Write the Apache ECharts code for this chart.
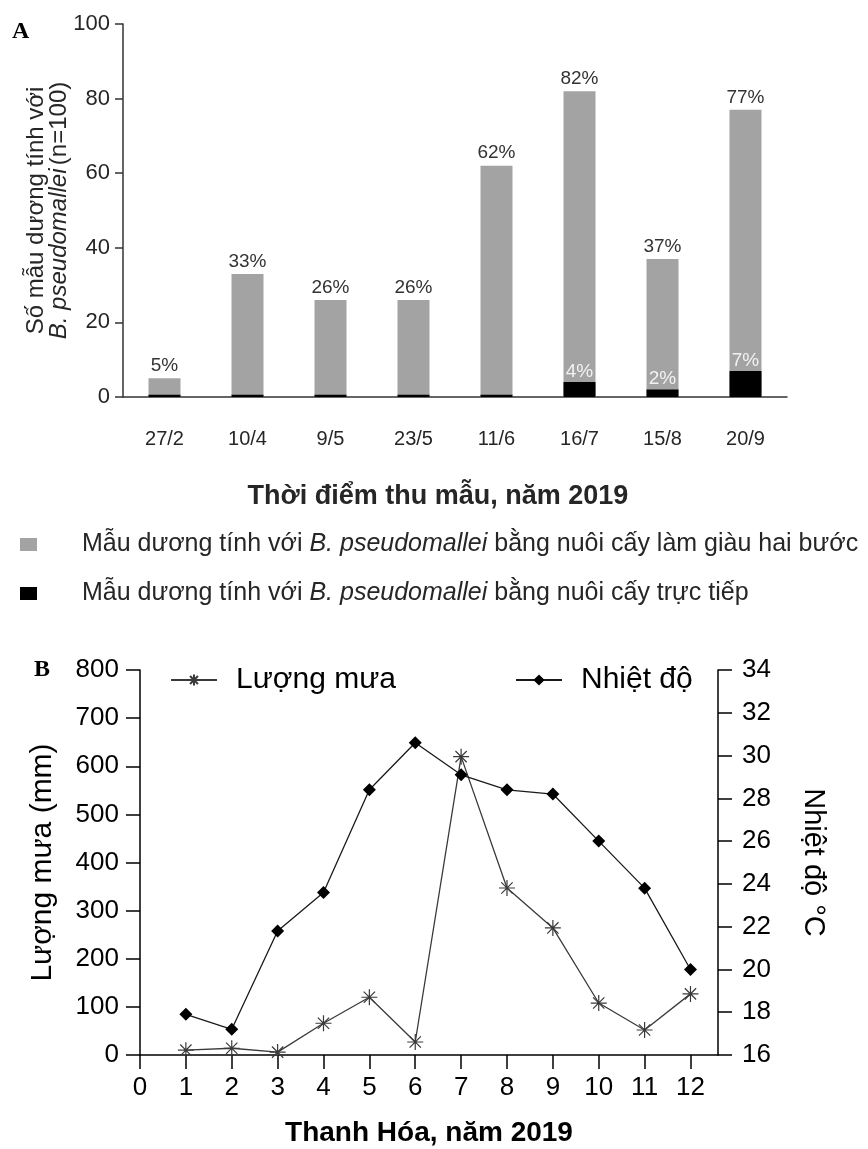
<!DOCTYPE html>
<html>
<head>
<meta charset="utf-8">
<script src="https://cdn.jsdelivr.net/npm/echarts@6/dist/echarts.min.js"></script>
<style>
  html, body { margin: 0; padding: 0; background: #fff; }
  #chart { width: 868px; height: 1149px; }
</style>
</head>
<body>
<div id="chart"></div>
<script>
// Panel A: positive samples per sampling date (n = 100)
const sampleDates = ['27/2', '10/4', '9/5', '23/5', '11/6', '16/7', '15/8', '20/9'];
const twoStepPositive = [5, 33, 26, 26, 62, 82, 37, 77];
const directPositive = [0.6, 0.6, 0.6, 0.6, 0.6, 4, 2, 7];

// Panel B: monthly rainfall and temperature, Thanh Hóa 2019
const months = [1, 2, 3, 4, 5, 6, 7, 8, 9, 10, 11, 12];
const rainfall = [10, 14, 6, 66, 120, 27, 620, 347, 264, 108, 52, 127];
const temperature = [17.9, 17.2, 21.8, 23.6, 28.4, 30.6, 29.1, 28.4, 28.2, 26.0, 23.8, 20.0];

const TWO_STEP = 'Mẫu dương tính với B. pseudomallei bằng nuôi cấy làm giàu hai bước';
const DIRECT = 'Mẫu dương tính với B. pseudomallei bằng nuôi cấy trực tiếp';
const RAIN = 'Lượng mưa';
const TEMP = 'Nhiệt độ';

const SANS = "'Liberation Sans', Arial, sans-serif";
const GREY = '#a3a3a3';
const INK = '#262626';

const asterisk = 'path://M0,-10L0,10M-10,0L10,0M-7.07,-7.07L7.07,7.07M-7.07,7.07L7.07,-7.07';

const chart = echarts.init(document.getElementById('chart'), null, { renderer: 'canvas' });

const legendRich = {
  n: { fontSize: 25, color: INK },
  i: { fontSize: 25, color: INK, fontStyle: 'italic' }
};
function legendName(name) {
  const parts = name.split('B. pseudomallei');
  return '{n|' + parts[0] + '}{i|B. pseudomallei}{n|' + parts[1] + '}';
}

chart.setOption({
  animation: false,
  backgroundColor: '#fff',
  textStyle: { fontFamily: SANS },
  grid: [
    { left: 123, top: 24, width: 664, height: 373 },
    { left: 140, top: 670, width: 578, height: 385 }
  ],
  graphic: [
    { type: 'text', left: 12, top: 20, style: { text: 'A', font: "bold 24px 'Liberation Serif', 'Times New Roman', serif", fill: '#000' } },
    { type: 'text', left: 34, top: 658, style: { text: 'B', font: "bold 24px 'Liberation Serif', 'Times New Roman', serif", fill: '#000' } }
  ],
  legend: [
    {
      data: [TWO_STEP, DIRECT],
      orient: 'vertical',
      left: 15, top: 527,
      itemWidth: 17, itemHeight: 13, itemGap: 24,
      icon: 'rect',
      selectedMode: false,
      formatter: legendName,
      textStyle: { padding: [0, 0, 0, 40], rich: legendRich }
    },
    {
      data: [RAIN],
      left: 165, top: 660,
      itemWidth: 46, itemHeight: 14,
      selectedMode: false,
      textStyle: { fontSize: 30, color: '#000', padding: [0, 0, 0, 14] }
    },
    {
      data: [TEMP],
      left: 510, top: 660,
      itemWidth: 46, itemHeight: 14,
      selectedMode: false,
      textStyle: { fontSize: 30, color: '#000', padding: [0, 0, 0, 14] }
    }
  ],
  xAxis: [
    {
      type: 'category',
      gridIndex: 0,
      data: sampleDates,
      axisLine: { lineStyle: { color: '#333', width: 1.5 } },
      axisTick: { alignWithLabel: true, length: 10, lineStyle: { color: '#333', width: 1.5 } },
      axisLabel: { fontSize: 20, color: INK, margin: 32 },
      name: 'Thời điểm thu mẫu, năm 2019',
      nameLocation: 'middle',
      nameGap: 86,
      nameMoveOverlap: false,
      nameTextStyle: { fontWeight: 'bold', fontSize: 27, color: INK, verticalAlign: 'top', padding: [0, 34, 0, 0] }
    },
    {
      type: 'value',
      gridIndex: 1,
      min: 0, max: 12.6, interval: 1,
      splitLine: { show: false },
      axisLine: { onZero: false, lineStyle: { color: '#000', width: 1.5 } },
      axisTick: { length: 14, lineStyle: { color: '#000', width: 1.5 } },
      axisLabel: {
        fontSize: 26, color: '#000', margin: 20, showMaxLabel: false,
        formatter: v => (Number.isInteger(v) ? String(v) : '')
      },
      name: 'Thanh Hóa, năm 2019',
      nameLocation: 'middle',
      nameGap: 64,
      nameMoveOverlap: false,
      nameTextStyle: { fontWeight: 'bold', fontSize: 28, color: '#000', verticalAlign: 'top' }
    }
  ],
  yAxis: [
    {
      type: 'value',
      gridIndex: 0,
      min: 0, max: 100, interval: 20,
      splitLine: { show: false },
      axisLine: { show: true, lineStyle: { color: '#333', width: 1.5 } },
      axisTick: { show: true, length: 8, lineStyle: { color: '#333', width: 1.5 } },
      axisLabel: { fontSize: 22, color: INK, margin: 13 },
      name: '{n|Số mẫu dương tính với}\n{i|B. pseudomallei} {n|(n=100)}',
      nameLocation: 'middle',
      nameGap: 52,
      nameMoveOverlap: false,
      nameTextStyle: {
        rich: {
          n: { fontSize: 24, color: INK, lineHeight: 23 },
          i: { fontSize: 24, color: INK, fontStyle: 'italic', lineHeight: 23 }
        }
      }
    },
    {
      type: 'value',
      gridIndex: 1,
      position: 'left',
      min: 0, max: 800, interval: 100,
      splitLine: { show: false },
      axisLine: { show: true, lineStyle: { color: '#000', width: 1.5 } },
      axisTick: { show: true, length: 14, lineStyle: { color: '#000', width: 1.5 } },
      axisLabel: { fontSize: 26, color: '#000', margin: 21 },
      name: 'Lượng mưa (mm)',
      nameLocation: 'middle',
      nameGap: 82,
      nameMoveOverlap: false,
      nameTextStyle: { fontSize: 30, color: '#000' }
    },
    {
      type: 'value',
      gridIndex: 1,
      position: 'right',
      min: 16, max: 34, interval: 2,
      splitLine: { show: false },
      axisLine: { show: true, lineStyle: { color: '#000', width: 1.5 } },
      axisTick: { show: true, length: 14, lineStyle: { color: '#000', width: 1.5 } },
      axisLabel: { fontSize: 26, color: '#000', margin: 24 },
      name: 'Nhiệt độ °C',
      nameLocation: 'middle',
      nameRotate: -90,
      nameGap: 80,
      nameMoveOverlap: false,
      nameTextStyle: { fontSize: 29, color: '#000' }
    }
  ],
  series: [
    {
      name: TWO_STEP,
      type: 'bar',
      xAxisIndex: 0, yAxisIndex: 0,
      data: twoStepPositive,
      barWidth: 32,
      itemStyle: { color: GREY },
      label: {
        show: true, position: 'top', distance: 3,
        fontSize: 19, color: '#333',
        formatter: p => p.value + '%'
      }
    },
    {
      name: DIRECT,
      type: 'bar',
      xAxisIndex: 0, yAxisIndex: 0,
      data: directPositive,
      barWidth: 32,
      barGap: '-100%',
      itemStyle: { color: '#000' },
      label: {
        show: true, position: 'top', distance: 1,
        fontSize: 19, color: '#f2f2f2',
        formatter: p => (p.value >= 1 ? p.value + '%' : '')
      }
    },
    {
      name: RAIN,
      type: 'line',
      xAxisIndex: 1, yAxisIndex: 1,
      data: months.map((m, i) => [m, rainfall[i]]),
      symbol: asterisk,
      symbolSize: 16,
      lineStyle: { color: '#3a3a3a', width: 1.3 },
      itemStyle: { color: '#3a3a3a', borderColor: '#3a3a3a', borderWidth: 1.2 }
    },
    {
      name: TEMP,
      type: 'line',
      xAxisIndex: 1, yAxisIndex: 2,
      data: months.map((m, i) => [m, temperature[i]]),
      symbol: 'diamond',
      symbolSize: 13,
      lineStyle: { color: '#1a1a1a', width: 1.3 },
      itemStyle: { color: '#000' }
    }
  ]
});
</script>
</body>
</html>
